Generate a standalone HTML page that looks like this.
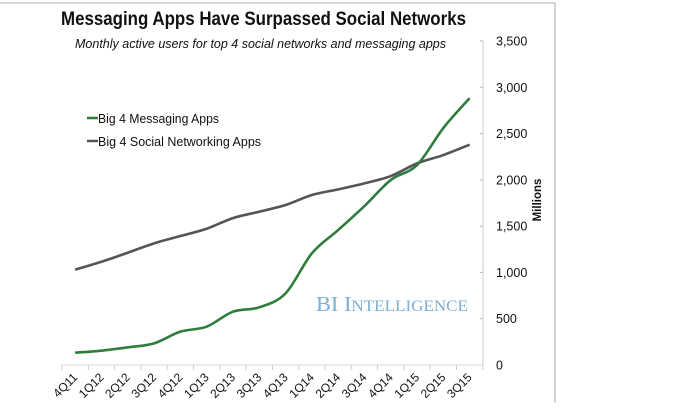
<!DOCTYPE html>
<html><head><meta charset="utf-8"><style>
body{margin:0;background:#fff;width:700px;height:403px;overflow:hidden;font-family:"Liberation Sans",sans-serif}
</style></head><body>
<svg id="chart" width="700" height="403" xmlns="http://www.w3.org/2000/svg">
<rect x="-2" y="3" width="557" height="420" fill="#fff" stroke="#c8c8c8" stroke-width="1.5"/>
<text x="61" y="25" textLength="405" lengthAdjust="spacingAndGlyphs" font-size="19" font-weight="bold" fill="#111">Messaging Apps Have Surpassed Social Networks</text>
<text x="75" y="48" textLength="371" lengthAdjust="spacingAndGlyphs" font-size="12.5" font-style="italic" fill="#111">Monthly active users for top 4 social networks and messaging apps</text>
<g>
<line x1="87" y1="118" x2="98" y2="118" stroke="#2e7d3a" stroke-width="2.5"/>
<text x="98" y="123" textLength="121" lengthAdjust="spacingAndGlyphs" font-size="12.5" fill="#111">Big 4 Messaging Apps</text>
<line x1="87" y1="141" x2="98" y2="141" stroke="#555" stroke-width="2.5"/>
<text x="98" y="146" textLength="163" lengthAdjust="spacingAndGlyphs" font-size="12.5" fill="#111">Big 4 Social Networking Apps</text>
</g>
<text x="316" y="311" textLength="152" lengthAdjust="spacingAndGlyphs" font-family="Liberation Serif,serif" font-size="21" fill="#7aaed6">BI I<tspan font-size="16">NTELLIGENCE</tspan></text>
<text transform="translate(541,200) rotate(-90)" text-anchor="middle" font-size="11.5" font-weight="bold" fill="#111">Millions</text>
<g id="axes"></g>
<g id="series"></g>
</svg>
<script>
const categories=["4Q11","1Q12","2Q12","3Q12","4Q12","1Q13","2Q13","3Q13","4Q13","1Q14","2Q14","3Q14","4Q14","1Q15","2Q15","3Q15"];
const messaging=[133,155,191,234,360,414,576,623,774,1206,1458,1717,1998,2160,2560,2883];
const social=[1030,1115,1213,1314,1393,1472,1587,1656,1728,1836,1897,1962,2041,2178,2268,2380];
const yTicks=[0,500,1000,1500,2000,2500,3000,3500];
const yTickLabels=["0","500","1,000","1,500","2,000","2,500","3,000","3,500"];
const NS="http://www.w3.org/2000/svg";
const x0=62,step=26.3,yBase=365,yMax=3500,yTop=41,axisX=483;
function xPos(i){return x0+step*(i+0.5);}
function yPos(v){return yBase-(v/yMax)*(yBase-yTop);}
function mk(t,a,p){const e=document.createElementNS(NS,t);for(const k in a)e.setAttribute(k,a[k]);p.appendChild(e);return e;}
const axes=document.getElementById('axes'),ser=document.getElementById('series');
const yl=mk('line',{x1:axisX,y1:yTop,x2:axisX,y2:yBase,stroke:'#ccc'},axes);


yTicks.forEach((v,i)=>{
 const t=mk('line',{x1:axisX-3,x2:axisX,y1:yPos(v),y2:yPos(v),stroke:'#bbb'},axes);
 
 
 const l=mk('text',{x:496,y:yPos(v)+4.5,'font-size':12.5,fill:'#111'},axes);
 l.textContent=yTickLabels[i];
 
 
});
const xl=mk('line',{x1:x0,y1:yBase,x2:x0+step*categories.length,y2:yBase,stroke:'#ddd'},axes);


for(let i=0;i<=categories.length;i++){
 const t=mk('line',{x1:x0+step*i,x2:x0+step*i,y1:yBase,y2:yBase+5,stroke:'#ccc'},axes);
 
 
}
categories.forEach((c,i)=>{
 const x=xPos(i)+3,y=yBase+13;
 const l=mk('text',{x:x,y:y,'font-size':12,fill:'#111','text-anchor':'end',transform:`rotate(-45 ${x} ${y})`},axes);
 l.textContent=c;
 
 
});
function smooth(vals){
 const p=vals.map((v,i)=>[xPos(i),yPos(v)]);
 let d=`M${p[0][0]},${p[0][1]}`;
 for(let i=0;i<p.length-1;i++){
  const a=p[i-1]||p[i],b=p[i],c=p[i+1],e=p[i+2]||c;
  d+=` C${b[0]+(c[0]-a[0])/6},${b[1]+(c[1]-a[1])/6} ${c[0]-(e[0]-b[0])/6},${c[1]-(e[1]-b[1])/6} ${c[0]},${c[1]}`;
 }
 return d;
}
const s1=mk('path',{d:smooth(social),fill:'none',stroke:'#555',"stroke-width":2.6},ser);


const s2=mk('path',{d:smooth(messaging),fill:'none',stroke:'#2e7d3a',"stroke-width":2.6},ser);


</script>
</body></html>
